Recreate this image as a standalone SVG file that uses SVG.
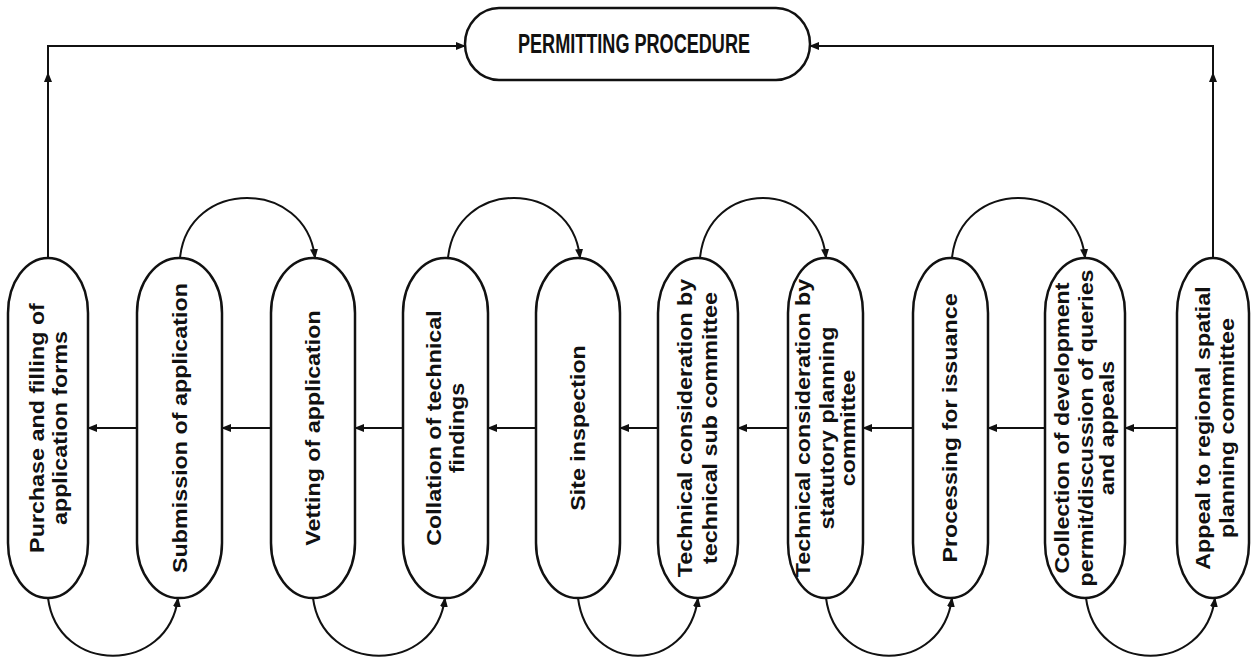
<svg xmlns="http://www.w3.org/2000/svg" width="1252" height="660" viewBox="0 0 1252 660">
<style>
.bg{fill:#ffffff}
.pill{fill:#ffffff;stroke:#111;stroke-width:2.5}
.ln{fill:none;stroke:#111;stroke-width:2}
.t{font-family:"Liberation Sans",Arial,sans-serif;font-weight:bold;font-size:20px;fill:#111;text-anchor:middle}
.tt{font-family:"Liberation Sans",Arial,sans-serif;font-weight:bold;font-size:27px;fill:#111;text-anchor:middle}
</style>
<defs>
<marker id="ah" viewBox="0 0 10 8" refX="9" refY="4" markerWidth="10" markerHeight="8" markerUnits="userSpaceOnUse" orient="auto"><path d="M0,0 L10,4 L0,8 z" fill="#111"/></marker>
</defs>
<rect class="bg" x="0" y="0" width="1252" height="660"/>
<g id="connectors">
<path class="ln" d="M48,258 V73" marker-end="url(#ah)"/>
<path class="ln" d="M48,75 V46 H465" marker-end="url(#ah)"/>
<path class="ln" d="M1213,258 V73" marker-end="url(#ah)"/>
<path class="ln" d="M1213,75 V46 H810" marker-end="url(#ah)"/>
<path class="ln" d="M137,428 H88" marker-end="url(#ah)"/>
<path class="ln" d="M271,428 H222" marker-end="url(#ah)"/>
<path class="ln" d="M403,428 H355" marker-end="url(#ah)"/>
<path class="ln" d="M536,428 H488" marker-end="url(#ah)"/>
<path class="ln" d="M658,428 H620" marker-end="url(#ah)"/>
<path class="ln" d="M788,428 H738" marker-end="url(#ah)"/>
<path class="ln" d="M913,428 H863" marker-end="url(#ah)"/>
<path class="ln" d="M1045,428 H988" marker-end="url(#ah)"/>
<path class="ln" d="M1177,428 H1125" marker-end="url(#ah)"/>
<path class="ln" d="M180,258 C188,178 306,178 315,258" marker-end="url(#ah)"/>
<path class="ln" d="M448,258 C456,178 572,178 580,258" marker-end="url(#ah)"/>
<path class="ln" d="M700,258 C708,178 818,178 826,258" marker-end="url(#ah)"/>
<path class="ln" d="M952,258 C960,178 1077,178 1085,258" marker-end="url(#ah)"/>
<path class="ln" d="M48,598 C58,675 168,675 178,598" marker-end="url(#ah)"/>
<path class="ln" d="M313,598 C323,675 435,675 445,598" marker-end="url(#ah)"/>
<path class="ln" d="M578,598 C588,675 688,675 698,598" marker-end="url(#ah)"/>
<path class="ln" d="M826,598 C836,675 942,675 952,598" marker-end="url(#ah)"/>
<path class="ln" d="M1086,598 C1096,675 1205,675 1215,598" marker-end="url(#ah)"/>
</g>
<g id="permitting">
<rect class="pill" x="465" y="8" width="345" height="72" rx="34" ry="36"/>
<text class="tt" x="634" y="53" textLength="232" lengthAdjust="spacingAndGlyphs">PERMITTING PROCEDURE</text>
</g>
<g id="n1">
<rect class="pill" x="8" y="258" width="80" height="340" rx="40" ry="55"/>
<text class="t" transform="translate(48,428) rotate(-90) scale(1.165,1)"><tspan x="0" y="-4">Purchase and filling of</tspan><tspan x="0" y="19">application forms</tspan></text>
</g>
<g id="n2">
<rect class="pill" x="137" y="258" width="85" height="340" rx="42" ry="55"/>
<text class="t" transform="translate(180,428) rotate(-90) scale(1.165,1)"><tspan x="0" y="7">Submission of application</tspan></text>
</g>
<g id="n3">
<rect class="pill" x="271" y="258" width="84" height="340" rx="42" ry="55"/>
<text class="t" transform="translate(313,428) rotate(-90) scale(1.165,1)"><tspan x="0" y="7">Vetting of application</tspan></text>
</g>
<g id="n4">
<rect class="pill" x="403" y="258" width="85" height="340" rx="42" ry="55"/>
<text class="t" transform="translate(445,428) rotate(-90) scale(1.165,1)"><tspan x="0" y="-4">Collation of technical</tspan><tspan x="0" y="19">findings</tspan></text>
</g>
<g id="n5">
<rect class="pill" x="536" y="258" width="84" height="340" rx="42" ry="55"/>
<text class="t" transform="translate(578,428) rotate(-90) scale(1.165,1)"><tspan x="0" y="7">Site inspection</tspan></text>
</g>
<g id="n6">
<rect class="pill" x="658" y="258" width="80" height="340" rx="40" ry="55"/>
<text class="t" transform="translate(698,428) rotate(-90) scale(1.165,1)"><tspan x="0" y="-6">Technical consideration by</tspan><tspan x="0" y="19">technical sub committee</tspan></text>
</g>
<g id="n7">
<rect class="pill" x="788" y="258" width="75" height="340" rx="37" ry="55"/>
<text class="t" transform="translate(826,428) rotate(-90) scale(1.165,1)"><tspan x="0" y="-16">Technical consideration by</tspan><tspan x="0" y="8">statutory planning</tspan><tspan x="0" y="29">committee</tspan></text>
</g>
<g id="n8">
<rect class="pill" x="913" y="258" width="75" height="340" rx="37" ry="55"/>
<text class="t" transform="translate(950,428) rotate(-90) scale(1.165,1)"><tspan x="0" y="7">Processing for issuance</tspan></text>
</g>
<g id="n9">
<rect class="pill" x="1045" y="258" width="80" height="340" rx="40" ry="55"/>
<text class="t" transform="translate(1085,428) rotate(-90) scale(1.165,1)"><tspan x="0" y="-16">Collection of development</tspan><tspan x="0" y="8">permit/discussion of queries</tspan><tspan x="0" y="29">and appeals</tspan></text>
</g>
<g id="n10">
<rect class="pill" x="1177" y="258" width="72" height="340" rx="36" ry="55"/>
<text class="t" transform="translate(1213,428) rotate(-90) scale(1.165,1)"><tspan x="0" y="-3">Appeal to regional spatial</tspan><tspan x="0" y="21">planning committee</tspan></text>
</g>
</svg>
